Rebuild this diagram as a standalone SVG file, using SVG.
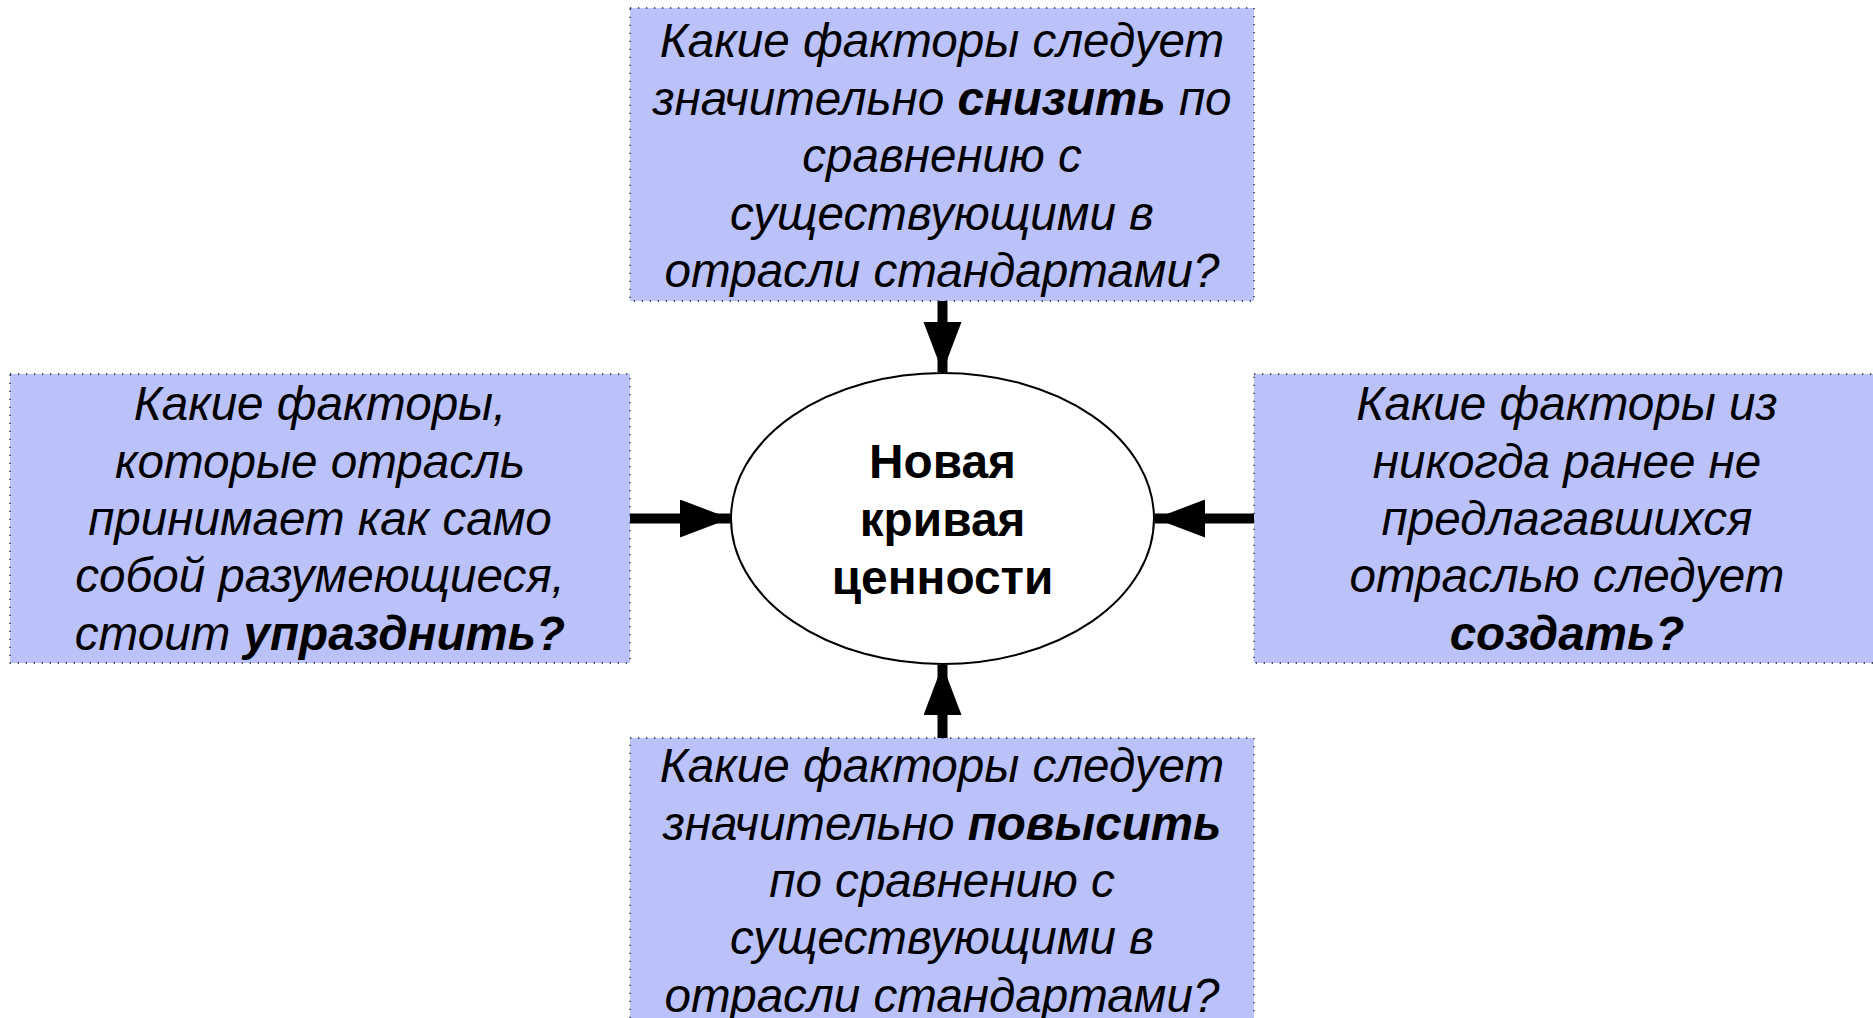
<svg xmlns="http://www.w3.org/2000/svg" width="1873" height="1018" viewBox="0 0 1873 1018">
  <style>
    .box { fill: #bbc1f9; stroke: #1a1a2e; stroke-width: 1.3; stroke-dasharray: 1.3 6.7; }
    .q { font-family: "Liberation Sans", Arial, sans-serif; font-size: 47.6px; font-style: italic; fill: #000; text-anchor: middle; }
    .b { font-weight: bold; }
    .core { font-family: "Liberation Sans", Arial, sans-serif; font-size: 47.8px; font-weight: bold; fill: #000; text-anchor: middle; }
    .wire { stroke: #000; stroke-width: 10; fill: none; }
  </style>
  <defs>
    <marker id="head" markerUnits="userSpaceOnUse" markerWidth="52" markerHeight="40" refX="50" refY="19" orient="auto">
      <path d="M0,0 L50,19 L0,38 Z" fill="#000"/>
    </marker>
  </defs>

  <rect width="1873" height="1018" fill="#fff"/>

  <!-- arrows pointing into the value curve -->
  <g id="connectors">
    <line class="wire" x1="942.5" y1="301" x2="942.5" y2="372" marker-end="url(#head)"/>
    <line class="wire" x1="942.5" y1="738" x2="942.5" y2="665" marker-end="url(#head)"/>
    <line class="wire" x1="630" y1="518.5" x2="730" y2="518.5" marker-end="url(#head)"/>
    <line class="wire" x1="1254" y1="518.5" x2="1155" y2="518.5" marker-end="url(#head)"/>
  </g>

  <g id="reduce">
    <rect class="box" x="630" y="8" width="624" height="293"/>
    <text class="q" x="942" y="57">Какие факторы следует</text>
    <text class="q" x="942" y="115">значительно <tspan class="b">снизить</tspan> по</text>
    <text class="q" x="942" y="172">сравнению с</text>
    <text class="q" x="942" y="230">существующими в</text>
    <text class="q" x="942" y="287">отрасли стандартами?</text>
  </g>

  <g id="eliminate">
    <rect class="box" x="10" y="374" width="620" height="289"/>
    <text class="q" x="320" y="420">Какие факторы,</text>
    <text class="q" x="320" y="478">которые отрасль</text>
    <text class="q" x="320" y="535">принимает как само</text>
    <text class="q" x="320" y="592">собой разумеющиеся,</text>
    <text class="q" x="320" y="650">стоит <tspan class="b">упразднить?</tspan></text>
  </g>

  <g id="create">
    <rect class="box" x="1254" y="374" width="625" height="289"/>
    <text class="q" x="1567" y="420">Какие факторы из</text>
    <text class="q" x="1567" y="478">никогда ранее не</text>
    <text class="q" x="1567" y="535">предлагавшихся</text>
    <text class="q" x="1567" y="592">отраслью следует</text>
    <text class="q" x="1567" y="650"><tspan class="b">создать?</tspan></text>
  </g>

  <g id="raise">
    <rect class="box" x="630" y="738" width="624" height="300"/>
    <text class="q" x="942" y="782">Какие факторы следует</text>
    <text class="q" x="942" y="840">значительно <tspan class="b">повысить</tspan></text>
    <text class="q" x="942" y="897">по сравнению с</text>
    <text class="q" x="942" y="954">существующими в</text>
    <text class="q" x="942" y="1012">отрасли стандартами?</text>
  </g>

  <g id="value-curve">
    <ellipse cx="942.5" cy="518.5" rx="211.5" ry="145.5" fill="#fff" stroke="#000" stroke-width="2"/>
    <text class="core" x="942.5" y="478">Новая</text>
    <text class="core" x="942.5" y="536">кривая</text>
    <text class="core" x="942.5" y="594">ценности</text>
  </g>
</svg>
